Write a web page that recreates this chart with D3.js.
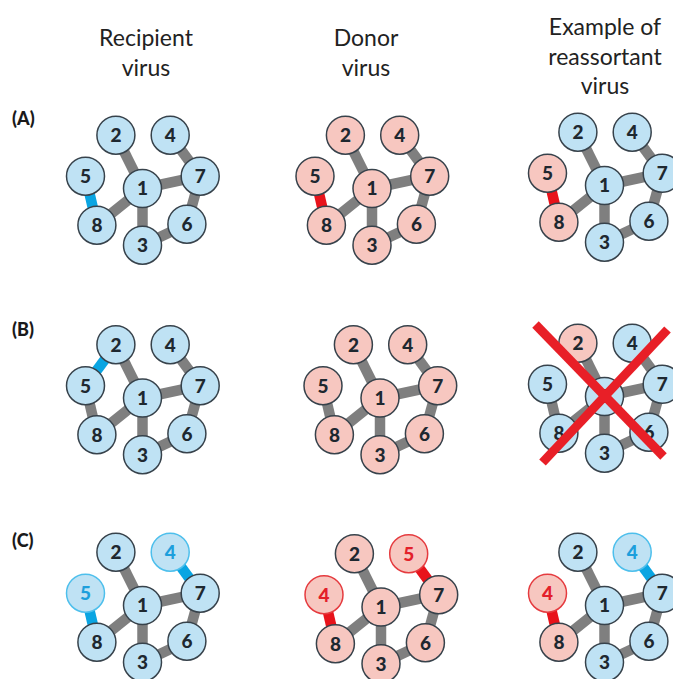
<!DOCTYPE html>
<html>
<meta charset="utf-8">
<script src="https://cdn.jsdelivr.net/npm/d3@7"></script>
<style>
body{ margin:0; background:#fff; }
svg text{ font-family: Lato, "Open Sans", sans-serif; }
</style>
<body>
<svg id="fig" width="673" height="679"></svg>
</body>
<script>
// column headers and row labels
const columnTitles = [["Recipient", "virus"], ["Donor", "virus"], ["Example of", "reassortant", "virus"]];
const rowLabels = ["(A)", "(B)", "(C)"];

// genome segments 1..8 and where they sit in the drawing (graph units)
const segments = [1, 2, 3, 4, 5, 6, 7, 8];
const slotX = { 1: 0, 2: -26.6, 3: 0, 4: 27.7, 5: -57, 6: 44.4, 7: 57.7, 8: -45.6 };
const slotY = { 1: 0, 2: -53.3, 3: 56.7, 4: -53.3, 5: -12.3, 6: 35.7, 7: -12.3, 8: 36.7 };

// links that are always grey
const coreLinks = [[2, 1], [1, 8], [1, 7], [1, 3], [3, 6], [6, 7]];

// per panel: which segments come from donor, extra links (g = grey, r = recipient, d = donor),
// relabelled slots and highlighted slots
const panels = [
  { row: 0, col: 0, donor: [], links: [[4, 7, "g"], [5, 8, "r"]], labels: {}, hi: {} },
  { row: 0, col: 1, donor: segments, links: [[4, 7, "g"], [5, 8, "d"]], labels: {}, hi: {} },
  { row: 0, col: 2, donor: [5, 8], links: [[4, 7, "g"], [5, 8, "d"]], labels: {}, hi: {} },
  { row: 1, col: 0, donor: [], links: [[4, 7, "g"], [5, 8, "g"], [2, 5, "r"]], labels: {}, hi: {} },
  { row: 1, col: 1, donor: segments, links: [[4, 7, "g"], [5, 8, "g"]], labels: {}, hi: {} },
  { row: 1, col: 2, donor: [2], links: [[4, 7, "g"], [5, 8, "g"]], labels: {}, hi: {}, crossed: true },
  { row: 2, col: 0, donor: [], links: [[4, 7, "r"], [5, 8, "r"]], labels: {}, hi: { 4: "r", 5: "r" } },
  { row: 2, col: 1, donor: segments, links: [[4, 7, "d"], [5, 8, "d"]], labels: { 4: 5, 5: 4 }, hi: { 4: "d", 5: "d" } },
  { row: 2, col: 2, donor: [5, 8], links: [[4, 7, "r"], [5, 8, "d"]], labels: { 5: 4 }, hi: { 4: "r", 5: "d" } }
];

const svg = d3.select("#fig");

// position of segment 1 for every panel
const colX = d3.scaleOrdinal().domain([0, 1, 2]).range([142.5, 372, 604.5]);
const rowY = d3.scaleOrdinal().domain([0, 1, 2]).range([188.5, 398, 605.5]);
// small hand nudges seen in the figure
const nudge = { "0-2": [0, -3], "1-1": [8, 0], "1-2": [0, -1.5], "2-1": [9, 1.5] };

const unit = d3.scaleLinear().domain([0, 1]).range([0, 1]);

const R = 19;
const linkColor = { g: "#7f7f7f", r: "#0aa5e2", d: "#e8131b" };
const fill = { r: "#bfe2f4", d: "#f7c7c0" };
const hiStroke = { r: "#4dbfec", d: "#e53b3f" };
const hiText = { r: "#1d9fdc", d: "#e3202a" };

// headers
const headerY = [46, 46, 35];
columnTitles.forEach(function(lines, i){
  const t = svg.append("text")
    .attr("text-anchor", "middle")
    .attr("font-size", 23)
    .attr("fill", "#222");
  lines.forEach(function(s, j){
    t.append("tspan")
      .attr("x", [146, 366, 605][i])
      .attr("y", headerY[i] + j * 29.5)
      .text(s);
  });
});

rowLabels.forEach(function(s, i){
  svg.append("text")
    .attr("x", 12)
    .attr("y", [125, 336, 547][i])
    .attr("font-size", 18)
    .attr("font-weight", "900")
    .attr("fill", "#1a1a1a")
    .text(s);
});

panels.forEach(function(p){
  const key = p.row + "-" + p.col;
  const off = nudge[key] || [0, 0];
  const cx = colX(p.col) + off[0], cy = rowY(p.row) + off[1];
  const px = id => cx + unit(slotX[id]);
  const py = id => cy + unit(slotY[id]);
  const g = svg.append("g");

  const allLinks = coreLinks.map(l => [l[0], l[1], "g"]).concat(p.links);
  // grey links first, coloured ones on top
  allLinks.sort((a, b) => (a[2] == "g" ? 0 : 1) - (b[2] == "g" ? 0 : 1));
  g.selectAll("line")
    .data(allLinks)
    .join("line")
    .attr("x1", d => px(d[0]))
    .attr("y1", d => py(d[0]))
    .attr("x2", d => px(d[1]))
    .attr("y2", d => py(d[1]))
    .attr("stroke", d => linkColor[d[2]])
    .attr("stroke-width", 10.5);

  const origin = id => (p.donor.indexOf(id) >= 0 ? "d" : "r");

  const nodes = g.selectAll("g.node")
    .data(segments)
    .join("g")
    .attr("class", "node")
    .attr("transform", d => "translate(" + px(d) + "," + py(d) + ")");

  nodes.append("circle")
    .attr("r", R)
    .attr("fill", d => fill[origin(d)])
    .attr("stroke", d => p.hi[d] ? hiStroke[p.hi[d]] : "#37424b")
    .attr("stroke-width", 1.5);

  nodes.append("text")
    .attr("text-anchor", "middle")
    .attr("dy", "0.36em")
    .attr("font-size", 19)
    .attr("font-weight", "900")
    .attr("fill", d => p.hi[d] ? hiText[p.hi[d]] : "#1e2830")
    .text(d => p.labels[d] || d);

  if (p.crossed) {
    const cross = [[[-69, -72], [59, 60]], [[63, -67], [-62, 66]]];
    g.selectAll("line.x")
      .data(cross)
      .join("line")
      .attr("class", "x")
      .attr("x1", d => cx + unit(d[0][0]))
      .attr("y1", d => cy + unit(d[0][1]))
      .attr("x2", d => cx + unit(d[1][0]))
      .attr("y2", d => cy + unit(d[1][1]))
      .attr("stroke", "#e81f27")
      .attr("stroke-width", 9);
  }
});
</script>
</html>
